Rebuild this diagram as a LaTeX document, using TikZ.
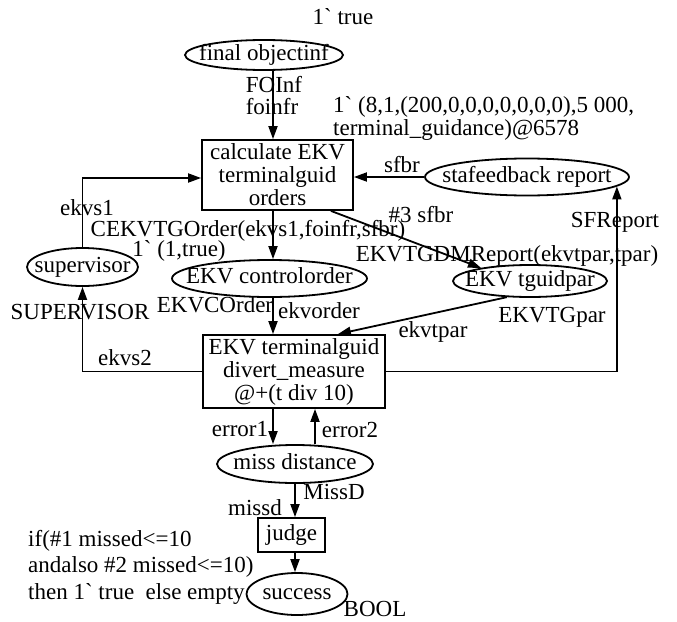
\documentclass[tikz,border=0pt]{standalone}
\usepackage{fontspec}
\setmainfont{Liberation Serif}[Ligatures=TeXOff]
\usepackage{tikz}
\usetikzlibrary{positioning, arrows.meta, shapes.geometric}
\newcommand{\pl}[1]{\makebox[0pt]{#1}}

\begin{document}
\begin{tikzpicture}[
        x=1pt, y=-1pt,
        every node/.style={font=\fontsize{23}{23}\selectfont},
        place/.style={ellipse, draw, line width=1.8pt, inner sep=0pt, text height=10pt, text depth=0pt},
        trans/.style={rectangle, draw, line width=1.8pt, inner sep=0pt, align=center},
        inscr/.style={inner sep=0pt},
        arc/.style={-{Triangle[length=13pt, width=9pt]}, line width=1.8pt}
    ]
        \useasboundingbox (0,0) rectangle (677,621);
        % columns of the vertical arcs
        \coordinate (colA) at (273,0);
        \coordinate (colB) at (315,0);
        \coordinate (colC) at (295,0);
        % Places
        \node[place, minimum width=158pt, minimum height=30pt] (foinf) at (264,55) {\pl{final objectinf}};
        \node[place, minimum width=204pt, minimum height=37pt] (sfrep) at (527,177) {\pl{stafeedback report}};
        \node[place, minimum width=111pt, minimum height=38pt] (superv) at (82.5,267) {\pl{supervisor}};
        \node[place, minimum width=195pt, minimum height=37pt] (ctrlord) at (269.5,278.5) {\pl{EKV controlorder}};
        \node[place, minimum width=154pt, minimum height=32pt] (tgpar) at (530,281) {\pl{EKV tguidpar}};
        \node[place, minimum width=156pt, minimum height=38pt] (missdist) at (295,464) {\pl{miss distance}};
        \node[place, minimum width=101pt, minimum height=42pt] (success) at (297,594) {\pl{success}};
        % Transitions
        \node[trans, minimum width=151pt, minimum height=70pt] (calc) at (277.5,175) {calculate EKV\\terminalguid\\orders};
        \node[trans, minimum width=182pt, minimum height=73pt] (divert) at (294,371.5) {EKV terminalguid\\divert\_measure\\@+(t div 10)};
        \node[trans, minimum width=67pt, minimum height=34pt] (judge) at (291.5,535) {judge};
        % Arcs
        \draw[arc] (foinf.south -| colA) -- (calc.north -| colA);
        \draw[arc] (sfrep.west) -- (calc.east |- sfrep.west);
        \draw[arc] (superv.north) |- ([yshift=-3]calc.west);
        \draw[arc] (calc.south -| colA) -- (ctrlord.north -| colA);
        \draw[arc] ([xshift=-23]calc.south east) -- (tgpar.165);
        \draw[arc] (tgpar.215) -- ([xshift=-48]divert.north east);
        \draw[arc] (ctrlord.south -| colA) -- (divert.north -| colA);
        \draw[arc] (divert.west) -| (superv.south);
        \draw[arc] (divert.east) -| (sfrep.-6.4);
        \draw[arc] (divert.south -| colA) -- (missdist.north -| colA);
        \draw[arc] (missdist.north -| colB) -- (divert.south -| colB);
        \draw[arc] (missdist.south -| colC) -- (judge.north -| colC);
        \draw[arc] (judge.south -| colC) -- (success.north -| colC);
        % Initial markings and colour sets
        \node[inscr] (mTrue) at (343,17) {1` true};
        \node[inscr, anchor=west, align=left] (mInit) at (333,118.5) {1` (8,1,(200,0,0,0,0,0,0,0),5 000,\\terminal\_guidance)@6578};
        \node[inscr] (mSup) at (179,251) {1` (1,true)};
        \node[inscr] (csFOInf) at (274,85) {FOInf};
        \node[inscr] (csSup) at (80,312) {SUPERVISOR};
        \node[inscr] (csCOrd) at (215,305) {EKVCOrder};
        \node[inscr] (csTGpar) at (552,317) {EKVTGpar};
        \node[inscr] (csSFRep) at (615,222) {SFReport};
        \node[inscr] (csMissD) at (334,492) {MissD};
        \node[inscr] (csBool) at (375,609) {BOOL};
        % Arc inscriptions
        \node[inscr] (eFoinfr) at (272,107) {foinfr};
        \node[inscr] (eSfbr) at (402,165) {sfbr};
        \node[inscr] (eEkvs1) at (87,208) {ekvs1};
        \node[inscr] (eHash) at (421,215) {\#3 sfbr};
        \node[inscr] (eCEKV) at (248,231) {CEKVTGOrder(ekvs1,foinfr,sfbr)};
        \node[inscr] (eDMRep) at (507,256) {EKVTGDMReport(ekvtpar,tpar)};
        \node[inscr] (eEkvorder) at (319,311) {ekvorder};
        \node[inscr] (eEkvtpar) at (433,332) {ekvtpar};
        \node[inscr] (eEkvs2) at (125,358) {ekvs2};
        \node[inscr] (eErr1) at (240,429) {error1};
        \node[inscr] (eErr2) at (350,430) {error2};
        \node[inscr] (eMissd) at (255,508) {missd};
        \node[inscr, anchor=west, align=left, font=\fontsize{23}{26.5}\selectfont] (eCond) at (28,567) {if(\#1 missed<=10\\andalso \#2 missed<=10)\\then 1` true\ \ else empty};
    \end{tikzpicture}
\end{document}
